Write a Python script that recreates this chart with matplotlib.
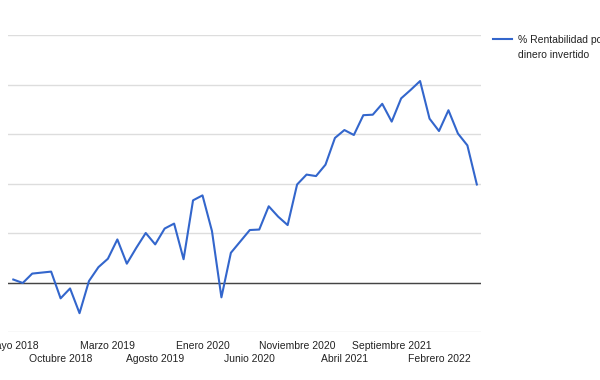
import matplotlib
matplotlib.use("Agg")
import matplotlib.pyplot as plt

plt.rcParams["font.family"] = ["Liberation Sans", "DejaVu Sans"]

# monthly values, Mayo 2018 .. Junio 2022
rentabilidad = [
    0.6, -0.1, 1.8, 2.0, 2.2, -3.2, -1.2, -6.2, 0.3, 3.1,
    4.8, 8.7, 3.8, 7.0, 10.0, 7.7, 10.9, 11.9, 4.7, 16.6,
    17.6, 10.4, -3.0, 6.0, 8.3, 10.6, 10.7, 15.4, 13.3, 11.6,
    19.8, 21.8, 21.5, 23.8, 29.2, 30.8, 29.8, 33.8, 33.9, 36.1,
    32.5, 37.2, 38.9, 40.7, 33.1, 30.6, 34.8, 30.1, 27.7, 19.8,
]
tick_pos = [0, 5, 10, 15, 20, 25, 30, 35, 40, 45]
tick_labels = [
    "Mayo 2018", "Octubre 2018", "Marzo 2019", "Agosto 2019", "Enero 2020",
    "Junio 2020", "Noviembre 2020", "Abril 2021", "Septiembre 2021", "Febrero 2022",
]
serie_nombre = ["% Rentabilidad por", "dinero invertido"]

fig = plt.figure(figsize=(6, 3.8), dpi=100)
ax = fig.add_axes([8 / 600, 48 / 380, 473 / 600, 297 / 380])

x = list(range(len(rentabilidad)))
ax.plot(x, rentabilidad, color="#3366cc", linewidth=1.5, zorder=3)

ax.set_xlim(-0.56, 49.44)
ax.set_ylim(-10, 50)
ax.set_yticks(range(-10, 51, 10))
ax.yaxis.grid(True, color="#dddddd", linewidth=1)
ax.axhline(0, color="#444444", linewidth=1, zorder=2)
ax.tick_params(axis="y", left=False, labelleft=False)
for s in ax.spines.values():
    s.set_visible(False)

# staggered labels: even ones on first row, odd ones on second
ax.set_xticks(tick_pos[0::2])
ax.set_xticklabels(tick_labels[0::2])
ax.set_xticks(tick_pos[1::2], minor=True)
ax.set_xticklabels(tick_labels[1::2], minor=True)
ax.tick_params(axis="x", which="major", length=0, pad=6.2, labelsize=7.5, labelcolor="#222222")
ax.tick_params(axis="x", which="minor", length=0, pad=16, labelsize=7.5, labelcolor="#222222")

# legend drawn by hand so it can run off the right edge like the original
fig.add_artist(plt.Line2D([492.7 / 600, 512.3 / 600], [341 / 380, 341 / 380],
                          color="#3366cc", linewidth=1.5))
for k, linea in enumerate(serie_nombre):
    fig.text(517.7 / 600, (336.7 - 15 * k) / 380, linea, fontsize=7.5,
             color="#222222", va="baseline", ha="left")

fig.savefig("out.png", dpi=100)
